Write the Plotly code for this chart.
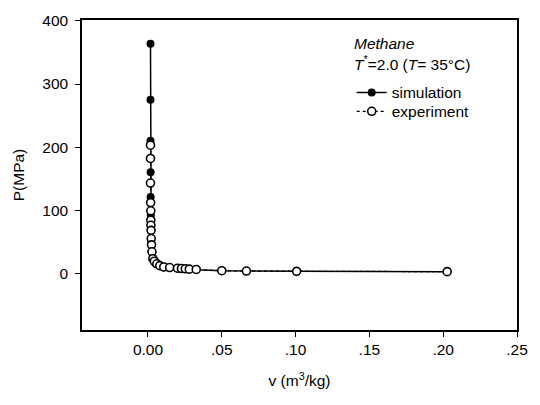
import plotly.graph_objects as go

# Simulation (filled)
v_sim = [0.0017, 0.0017, 0.0017, 0.0018, 0.0018, 0.0019, 0.0020, 0.0022, 0.0025, 0.0032,
         0.0053, 0.0107, 0.0200, 0.0327, 0.0500, 0.0667, 0.1007, 0.2027]
P_sim = [364, 275, 210, 160, 121, 92, 68, 50, 34, 23, 15, 9, 7.5, 5.5, 4, 3.5, 3, 2.5]

# Experiment (open)
v_exp = [0.0017, 0.0017, 0.0017, 0.0018, 0.0019, 0.0019, 0.0020, 0.0021, 0.0022, 0.0024,
         0.0027, 0.0033, 0.0043, 0.0060, 0.0080, 0.0107, 0.0147, 0.0200, 0.0227, 0.0253,
         0.0280, 0.0327, 0.0500, 0.0667, 0.1007, 0.2027]
P_exp = [203, 182, 143, 112, 99, 84, 76, 68, 55, 45, 34, 23, 19, 15, 12, 10, 9, 8, 7.5, 7,
         6.5, 6, 4, 3.5, 3, 2.5]

x_tickvals = [0.0, 0.05, 0.10, 0.15, 0.20, 0.25]
x_ticktext = ["0.00", ".05", ".10", ".15", ".20", ".25"]
y_tickvals = [0, 100, 200, 300, 400]

FONT = "Liberation Sans, Arial, sans-serif"
FS = 15.5

fig = go.Figure()
fig.add_trace(go.Scatter(
    x=v_sim, y=P_sim, mode="lines+markers", name="simulation", legend="legend",
    line=dict(color="black", width=1.5),
    marker=dict(symbol="circle", size=8, color="black"),
))
fig.add_trace(go.Scatter(
    x=v_exp, y=P_exp, mode="lines+markers", name="experiment", legend="legend2",
    line=dict(color="black", width=1.2, dash="dot"),
    marker=dict(symbol="circle", size=8, color="white", line=dict(color="black", width=1.6)),
))

fig.add_annotation(xref="paper", yref="paper", x=0.62, y=0.925, xanchor="left", yanchor="middle",
                   text="<i>Methane</i>", showarrow=False, font=dict(size=FS, color="black", family=FONT))
fig.add_annotation(xref="paper", yref="paper", x=0.62, y=0.862, xanchor="left", yanchor="middle",
                   text="<i>T</i><sup>*</sup>=2.0 (<i>T</i>= 35°C)", showarrow=False,
                   font=dict(size=FS, color="black", family=FONT))

legend_common = dict(xanchor="left", yanchor="top", bgcolor="rgba(0,0,0,0)",
                     font=dict(size=FS, family=FONT, color="black"), itemwidth=30)

fig.update_layout(
    width=540, height=405,
    margin=dict(l=82, r=16, t=14, b=75),
    paper_bgcolor="white", plot_bgcolor="white",
    font=dict(family=FONT, size=FS, color="black"),
    showlegend=True,
    legend=dict(x=0.62, y=0.82, **legend_common),
    legend2=dict(x=0.62, y=0.759, **legend_common),
    xaxis=dict(range=[-0.0447, 0.25], tickvals=x_tickvals, ticktext=x_ticktext,
               ticks="outside", ticklen=5, tickcolor="black", showgrid=False, zeroline=False,
               showline=True, linecolor="black", linewidth=1.5, mirror=True,
               tickfont=dict(size=FS, color="black", family=FONT),
               title=dict(text="v (m<sup>3</sup>/kg)", font=dict(size=FS, color="black", family=FONT),
                          standoff=18)),
    yaxis=dict(range=[-90, 401.5], tickvals=y_tickvals,
               ticks="outside", ticklen=5, tickcolor="black", showgrid=False, zeroline=False,
               showline=True, linecolor="black", linewidth=1.5, mirror=True,
               ticklabelstandoff=4,
               tickfont=dict(size=FS, color="black", family=FONT),
               title=dict(text="P(MPa)", font=dict(size=FS, color="black", family=FONT), standoff=14)),
)

fig.write_html("out.html")
